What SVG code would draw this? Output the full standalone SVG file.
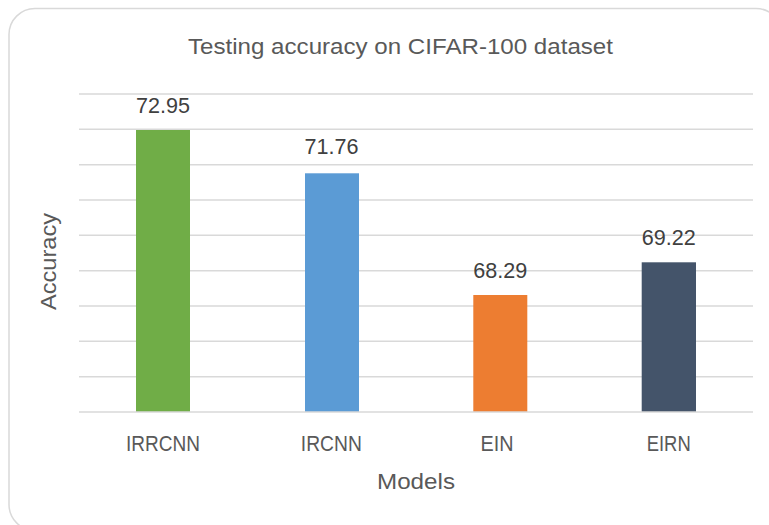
<svg xmlns="http://www.w3.org/2000/svg" width="769" height="525" viewBox="0 0 769 525">
<style>
.grid{stroke:#D9D9D9;stroke-width:1.5}
.t{font-family:"Liberation Sans",Arial,sans-serif;fill:#595959;font-size:21.5px;text-anchor:middle}
.v{font-family:"Liberation Sans",Arial,sans-serif;fill:#404040;font-size:21.5px;text-anchor:middle}
</style>
<rect x="9" y="8.5" width="773" height="522" rx="26" fill="#FFFFFF" stroke="#D9D9D9" stroke-width="1.5"/>
<g id="gridlines">
<line class="grid" x1="79" y1="94" x2="753" y2="94"/>
<line class="grid" x1="79" y1="129.3" x2="753" y2="129.3"/>
<line class="grid" x1="79" y1="164.7" x2="753" y2="164.7"/>
<line class="grid" x1="79" y1="200" x2="753" y2="200"/>
<line class="grid" x1="79" y1="235.3" x2="753" y2="235.3"/>
<line class="grid" x1="79" y1="270.7" x2="753" y2="270.7"/>
<line class="grid" x1="79" y1="306" x2="753" y2="306"/>
<line class="grid" x1="79" y1="341.3" x2="753" y2="341.3"/>
<line class="grid" x1="79" y1="376.7" x2="753" y2="376.7"/>
</g>
<g id="bar-irrcnn"><rect x="136" y="130" width="54" height="282" fill="#70AD47"/><text class="v" x="163" y="113" textLength="54" lengthAdjust="spacingAndGlyphs">72.95</text></g>
<g id="bar-ircnn"><rect x="305" y="173.3" width="54" height="238.7" fill="#5B9BD5"/><text class="v" x="331.5" y="154" textLength="54" lengthAdjust="spacingAndGlyphs">71.76</text></g>
<g id="bar-ein"><rect x="473.3" y="295" width="54" height="117" fill="#ED7D31"/><text class="v" x="500.3" y="278.3" textLength="54" lengthAdjust="spacingAndGlyphs">68.29</text></g>
<g id="bar-eirn"><rect x="641.7" y="262.3" width="54.3" height="149.7" fill="#44546A"/><text class="v" x="668.8" y="245" textLength="54" lengthAdjust="spacingAndGlyphs">69.22</text></g>
<line class="grid" x1="79" y1="412" x2="753" y2="412"/>
<g id="axis-labels">
<text class="t" x="163" y="451" textLength="74" lengthAdjust="spacingAndGlyphs">IRRCNN</text>
<text class="t" x="331.3" y="451" textLength="61" lengthAdjust="spacingAndGlyphs">IRCNN</text>
<text class="t" x="497" y="451" textLength="33" lengthAdjust="spacingAndGlyphs">EIN</text>
<text class="t" x="668.7" y="451" textLength="44" lengthAdjust="spacingAndGlyphs">EIRN</text>
<text class="t" x="416" y="488.5" textLength="78" lengthAdjust="spacingAndGlyphs">Models</text>
<text class="t" transform="translate(56,261.5) rotate(-90)" textLength="97" lengthAdjust="spacingAndGlyphs">Accuracy</text>
</g>
<text id="title" class="t" x="400.5" y="54" textLength="425" lengthAdjust="spacingAndGlyphs">Testing accuracy on CIFAR-100 dataset</text>
</svg>
